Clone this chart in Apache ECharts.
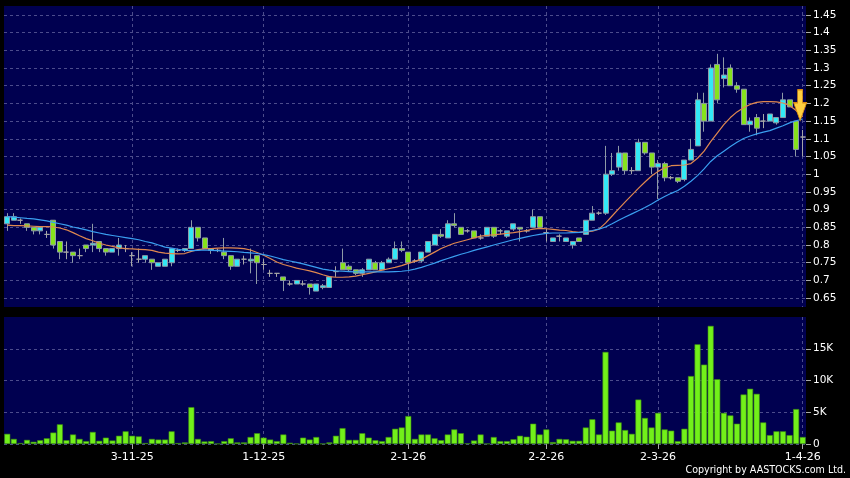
<!DOCTYPE html>
<html><head><meta charset="utf-8">
<script src="https://cdn.jsdelivr.net/npm/echarts@6/dist/echarts.min.js"></script>
<style>html,body{margin:0;padding:0;background:#000;}#c{width:850px;height:478px;}</style>
</head><body><div id="c"></div>
<script>
const dates = [
'3-10-25','6-10-25','8-10-25','9-10-25','10-10-25','13-10-25','14-10-25','15-10-25','16-10-25','17-10-25',
'20-10-25','21-10-25','22-10-25','23-10-25','24-10-25','27-10-25','28-10-25','30-10-25','31-10-25',
'3-11-25','4-11-25','5-11-25','6-11-25','7-11-25','10-11-25','11-11-25','12-11-25','13-11-25','14-11-25',
'17-11-25','18-11-25','19-11-25','20-11-25','21-11-25','24-11-25','25-11-25','26-11-25','27-11-25','28-11-25',
'1-12-25','2-12-25','3-12-25','4-12-25','5-12-25','8-12-25','9-12-25','10-12-25','11-12-25','12-12-25',
'15-12-25','16-12-25','17-12-25','18-12-25','19-12-25','22-12-25','23-12-25','24-12-25','26-12-25','29-12-25','30-12-25','31-12-25',
'2-1-26','5-1-26','6-1-26','7-1-26','8-1-26','9-1-26','12-1-26','13-1-26','14-1-26','15-1-26','16-1-26',
'19-1-26','20-1-26','21-1-26','22-1-26','23-1-26','26-1-26','27-1-26','28-1-26','29-1-26','30-1-26',
'2-2-26','3-2-26','4-2-26','5-2-26','6-2-26','9-2-26','10-2-26','11-2-26','12-2-26','13-2-26','16-2-26','20-2-26',
'23-2-26','24-2-26','25-2-26','26-2-26','27-2-26',
'2-3-26','3-3-26','4-3-26','5-3-26','6-3-26','9-3-26','10-3-26','11-3-26','12-3-26','13-3-26',
'16-3-26','17-3-26','18-3-26','19-3-26','20-3-26','23-3-26','24-3-26','25-3-26','26-3-26','27-3-26','30-3-26','31-3-26',
'1-4-26'];
const opens = [.86,.87,.87,.86,.85,.84,.83,.87,.81,.78, .78,.77,.80,.80,.81,.79,.78,.79,.79,.77,
.76,.76,.76,.74,.74,.75,.785,.785,.79,.85, .82,.785,.785,.78,.77,.74,.76,.755,.77,.745,
.72,.72,.71,.69,.69,.69,.69,.67,.68,.68, .725,.75,.74,.73,.72,.73,.75,.73,.75,.76,
.79,.78,.755,.755,.78,.80,.83,.82,.86,.85, .84,.84,.82,.825,.85,.84,.825,.845,.85,.84,
.85,.88,.835,.81,.825,.81,.80,.82,.83,.87, .89,.89,1.00,1.02,1.06,1.01,1.01,1.09,1.06,1.02,
1.03,.99,.99,.985,1.04,1.08,1.20,1.15,1.31,1.27, 1.30,1.25,1.24,1.14,1.16,1.15,1.15,1.145,1.16,1.21,
1.15,1.105];
const closes = [.88,.88,.87,.85,.84,.85,.83,.80,.78,.78, .77,.77,.79,.805,.79,.78,.79,.80,.79,.77,
.76,.77,.75,.75,.76,.79,.785,.79,.85,.82, .79,.79,.785,.77,.74,.76,.76,.76,.75,.745,
.72,.72,.70,.69,.70,.69,.68,.69,.685,.71, .725,.73,.73,.72,.73,.76,.73,.75,.76,.79,
.785,.75,.755,.78,.81,.83,.825,.86,.855,.83, .84,.82,.82,.85,.825,.84,.84,.86,.845,.84,
.88,.85,.835,.82,.825,.82,.81,.81,.87,.89, .89,1.00,1.01,1.06,1.01,1.01,1.09,1.06,1.02,1.03,
.99,.99,.98,1.04,1.07,1.21,1.15,1.30,1.21,1.28, 1.25,1.24,1.14,1.15,1.13,1.15,1.17,1.16,1.21,1.19,
1.07,1.105];
const lows = [.84,.87,.86,.84,.83,.83,.82,.79,.76,.76, .75,.76,.78,.78,.78,.77,.78,.77,.78,.74,
.75,.75,.73,.74,.74,.74,.78,.78,.79,.81, .79,.775,.78,.76,.73,.74,.745,.72,.69,.73,
.71,.71,.67,.685,.69,.685,.66,.67,.675,.68, .71,.73,.725,.715,.71,.73,.73,.73,.75,.76,
.78,.73,.75,.75,.78,.80,.82,.82,.85,.83, .835,.82,.815,.825,.82,.83,.82,.84,.81,.835,
.85,.85,.81,.81,.81,.81,.79,.81,.83,.87, .885,.885,.995,1.01,1.00,1.00,1.01,1.055,1.00,.93,
.98,.985,.975,.98,1.04,1.08,1.12,1.15,1.20,1.245, 1.25,1.23,1.14,1.12,1.11,1.13,1.15,1.14,1.16,1.19,
1.05,1.05];
const highs = [.89,.89,.875,.86,.85,.85,.84,.87,.81,.81, .78,.79,.80,.86,.81,.79,.79,.82,.80,.78,
.79,.77,.76,.75,.76,.79,.79,.79,.87,.85, .82,.79,.79,.82,.77,.76,.77,.79,.77,.76,
.73,.72,.71,.70,.70,.70,.69,.69,.69,.71, .74,.79,.745,.73,.735,.76,.755,.755,.765,.81,
.81,.78,.76,.78,.81,.83,.845,.87,.89,.85, .845,.84,.83,.85,.85,.845,.84,.86,.85,.845,
.90,.88,.845,.82,.83,.82,.81,.82,.87,.91, .895,1.08,1.06,1.08,1.06,1.02,1.10,1.09,1.06,1.04,
1.035,.995,.99,1.04,1.10,1.23,1.23,1.31,1.34,1.33, 1.31,1.26,1.24,1.16,1.17,1.17,1.17,1.16,1.23,1.21,
1.15,1.125];
const volumes = [1600,800,150,650,350,600,900,1800,3100,600, 1500,800,450,1900,500,1000,550,1300,2000,1300,
1200,150,800,700,700,2000,150,250,5800,800, 400,450,50,450,900,250,250,1100,1700,1000,
700,450,1500,200,50,1000,700,1100,50,250, 1300,2500,650,650,1700,1000,600,450,1100,2400,
2600,4400,800,1500,1500,900,600,1500,2300,1700, 100,550,1500,50,1100,450,450,750,1300,1150,
3200,1500,2300,300,800,750,500,500,2600,3900, 1500,14500,2100,3400,2200,1600,7000,4100,2600,4900,
2300,2100,450,2400,10700,15700,12500,18600,10200,4900, 4500,3200,7800,8700,7900,3400,1400,2000,2000,1400,
5500,1100];
const maFast = [.856,.855,.855,.854,.853,.852,.852,.851,.848,.843, .835,.826,.818,.812,.805,.800,.796,.792,.790,.789,
.788,.787,.785,.780,.777,.776,.775,.776,.782,.787, .789,.790,.791,.792,.792,.791,.790,.786,.779,.771,
.762,.752,.745,.740,.735,.731,.727,.722,.716,.711, .709,.709,.710,.712,.716,.720,.724,.729,.733,.737,
.742,.748,.754,.760,.770,.780,.790,.798,.805,.810, .815,.820,.825,.827,.829,.831,.833,.835,.838,.841,
.845,.847,.846,.844,.842,.841,.838,.836,.837,.839, .845,.862,.882,.902,.922,.941,.960,.978,.995,1.008,
1.018,1.024,1.025,1.026,1.030,1.045,1.065,1.092,1.116,1.140, 1.160,1.176,1.188,1.197,1.203,1.205,1.205,1.204,1.201,1.194,
1.180,1.162];
const maSlow = [.880,.879,.877,.875,.874,.871,.868,.864,.860,.856, .851,.847,.843,.838,.834,.830,.827,.824,.821,.818,
.815,.810,.806,.800,.794,.791,.788,.785,.784,.785, .786,.785,.784,.783,.782,.781,.779,.778,.776,.773,
.769,.764,.759,.755,.751,.747,.742,.737,.732,.729, .727,.726,.725,.724,.724,.724,.724,.724,.724,.725,
.726,.728,.732,.737,.743,.749,.756,.762,.768,.774, .779,.785,.790,.795,.800,.805,.810,.815,.819,.823,
.827,.830,.833,.834,.834,.834,.835,.836,.838,.841, .845,.851,.860,.870,.879,.888,.897,.906,.916,.927,
.937,.946,.954,.966,.980,.996,1.015,1.036,1.052,1.065, 1.078,1.090,1.101,1.108,1.114,1.119,1.123,1.130,1.137,1.145,
1.151,1.156];
const priceTicks = [0.65,0.7,0.75,0.8,0.85,0.9,0.95,1,1.05,1.1,1.15,1.2,1.25,1.3,1.35,1.4,1.45];
const volumeTicks = [0,5000,10000,15000];
const dateTicks = ['3-11-25','1-12-25','2-1-26','2-2-26','2-3-26','1-4-26'];
const arrowDate = '31-3-26';
const arrowPrice = 1.195;

const tickFn = (i) => dateTicks.indexOf(dates[i]) >= 0;
const gridLine = {color: '#4c4c8c', type: [3, 3], width: 1};
const font = 'DejaVu Sans';

const chart = echarts.init(document.getElementById('c'), null, {renderer: 'canvas'});
chart.setOption({
  backgroundColor: '#000000',
  animation: false,
  title: {
    text: 'Copyright by AASTOCKS.com Ltd.', right: 4, bottom: 2, padding: 0,
    textStyle: {color: '#ffffff', fontSize: 10.6, fontWeight: 'normal',
      fontFamily: "'DejaVu Sans Condensed',sans-serif"}
  },
  grid: [
    {left: 4, right: 44, top: 6, height: 301, show: true, backgroundColor: '#000050', borderWidth: 0},
    {left: 4, right: 44, top: 317, height: 127, show: true, backgroundColor: '#000050', borderWidth: 0}
  ],
  xAxis: [
    {type: 'category', gridIndex: 0, data: dates, boundaryGap: true,
     axisLine: {show: false}, axisTick: {show: false}, axisLabel: {show: false},
     splitLine: {show: true, interval: tickFn, alignWithLabel: true, lineStyle: gridLine}},
    {type: 'category', gridIndex: 1, data: dates, boundaryGap: true,
     axisLine: {show: false},
     axisTick: {show: true, interval: tickFn, alignWithLabel: true, length: 5, lineStyle: {color: '#aaaaaa'}},
     axisLabel: {show: true, interval: tickFn, color: '#ffffff', fontSize: 11, fontFamily: font, margin: 8},
     splitLine: {show: true, interval: tickFn, alignWithLabel: true, lineStyle: gridLine}}
  ],
  yAxis: [
    {type: 'value', gridIndex: 0, position: 'right', min: 0.625, max: 1.475, scale: true,
     axisLine: {show: false},
     axisTick: {show: true, length: 5, customValues: priceTicks, lineStyle: {color: '#aaaaaa'}},
     axisLabel: {customValues: priceTicks, color: '#ffffff', fontSize: 10.5, fontFamily: font, margin: 7,
       formatter: v => String(+v.toFixed(2))},
     splitLine: {show: true, lineStyle: gridLine}},
    {type: 'value', gridIndex: 1, position: 'right', min: 0, max: 20000,
     axisLine: {show: false},
     axisTick: {show: true, length: 5, customValues: volumeTicks, lineStyle: {color: '#aaaaaa'}},
     axisLabel: {customValues: volumeTicks, color: '#ffffff', fontSize: 10.5, fontFamily: font, margin: 7,
       formatter: v => v === 0 ? '0' : (v / 1000) + 'K'},
     splitLine: {show: true, lineStyle: gridLine}}
  ],
  series: [
    {type: 'candlestick', xAxisIndex: 0, yAxisIndex: 0, barWidth: 5.5,
     data: dates.map((d, i) => [opens[i], closes[i], lows[i], highs[i]]),
     itemStyle: {color: '#33e8f6', color0: '#86e21c', borderColor: '#8e9aa6', borderColor0: '#8e9aa6',
       borderColorDoji: '#a6a6a6', borderWidth: 1},
     markPoint: {
       silent: true, label: {show: false},
       data: [{coord: [arrowDate, arrowPrice], symbol: 'path://M4,0 L9,0 L9,13 L13,13 L6.5,31 L0,13 L4,13 Z',
         symbolSize: [13, 31], symbolKeepAspect: false, symbolOffset: [4, 0],
         itemStyle: {color: '#ffd040', borderColor: '#d88a10', borderWidth: 1}}]
     }},
    {type: 'line', xAxisIndex: 0, yAxisIndex: 0, data: maFast, showSymbol: false, symbol: 'none',
     lineStyle: {color: '#e0884f', width: 1.2}},
    {type: 'line', xAxisIndex: 0, yAxisIndex: 0, data: maSlow, showSymbol: false, symbol: 'none',
     lineStyle: {color: '#3a9ff0', width: 1.2}},
    {type: 'bar', xAxisIndex: 1, yAxisIndex: 1, data: volumes, barWidth: 6,
     itemStyle: {color: '#72f01a', borderColor: '#3c8c10', borderWidth: 0.6}}
  ]
});
</script>
</body></html>
